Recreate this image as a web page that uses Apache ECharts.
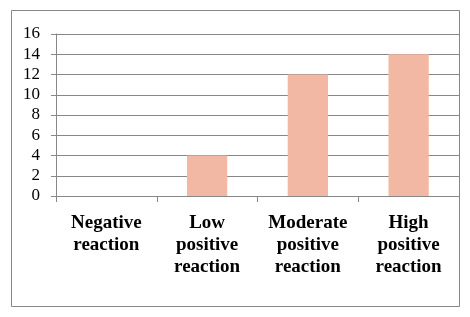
<!DOCTYPE html>
<html>
<head>
<meta charset="utf-8">
<script src="https://cdn.jsdelivr.net/npm/echarts@6/dist/echarts.min.js"></script>
<style>
  html, body { margin: 0; padding: 0; background: #fff; }
  #chart { width: 470px; height: 317px; }
</style>
</head>
<body>
<div id="chart"></div>
<script>
// categories and values
var categories = [
  "Negative\nreaction",
  "Low\npositive\nreaction",
  "Moderate\npositive\nreaction",
  "High\npositive\nreaction"
];
var values = [0, 4, 12, 14];
var yMin = 0;
var yMax = 16;
var yStep = 2;

var serifFont = "'Times New Roman', 'Liberation Serif', 'DejaVu Serif', serif";

var myChart = echarts.init(document.getElementById("chart"));
var option = {
  animation: false,
  backgroundColor: "#ffffff",
  graphic: [
    {
      type: "rect",
      shape: { x: 11.5, y: 10.5, width: 448, height: 296 },
      style: { fill: "none", stroke: "#878787", lineWidth: 1 },
      silent: true,
    },
  ],
  grid: {
    left: 56,
    right: 11,
    top: 34,
    bottom: 121,
    containLabel: false,
  },
  xAxis: {
    type: "category",
    data: categories,
    axisLine: {
      show: true,
      lineStyle: { color: "#878787", width: 1 },
    },
    axisTick: {
      show: true,
      alignWithLabel: false,
      length: 6,
      lineStyle: { color: "#878787" },
    },
    axisLabel: {
      interval: 0,
      margin: 16,
      color: "#000",
      fontFamily: serifFont,
      fontWeight: "bold",
      fontSize: 19,
      lineHeight: 22,
    },
  },
  yAxis: {
    type: "value",
    min: yMin,
    max: yMax,
    interval: yStep,
    axisLine: {
      show: true,
      lineStyle: { color: "#878787", width: 1 },
    },
    axisTick: {
      show: true,
      length: 5,
      lineStyle: { color: "#878787" },
    },
    axisLabel: {
      margin: 16,
      color: "#000",
      fontFamily: serifFont,
      fontSize: 17,
    },
    splitLine: {
      show: true,
      lineStyle: { color: "#878787", width: 1 },
    },
  },
  series: [
    {
      type: "bar",
      data: values,
      barWidth: "40%",
      itemStyle: { color: "#f3b8a3" },
    },
  ],
};
myChart.setOption(option);
</script>
</body>
</html>
